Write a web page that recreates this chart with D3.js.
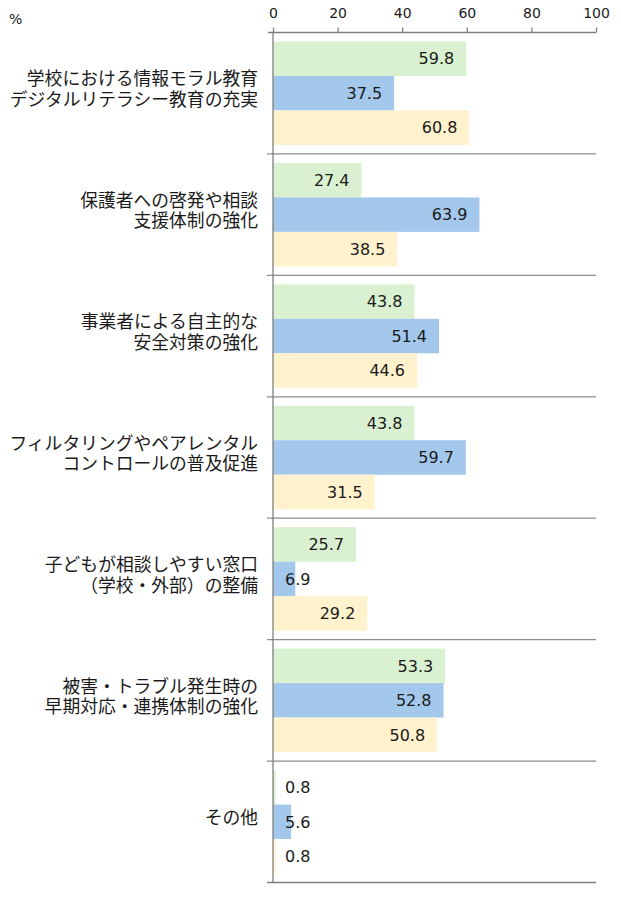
<!DOCTYPE html>
<html><head><meta charset="utf-8">
<script src="https://cdn.jsdelivr.net/npm/d3@7"></script>
<style>body{margin:0;background:#fff}</style>
</head><body>
<script>
const categories = [
  ["学校における情報モラル教育","デジタルリテラシー教育の充実"],
  ["保護者への啓発や相談","支援体制の強化"],
  ["事業者による自主的な","安全対策の強化"],
  ["フィルタリングやペアレンタル","コントロールの普及促進"],
  ["子どもが相談しやすい窓口","（学校・外部）の整備"],
  ["被害・トラブル発生時の","早期対応・連携体制の強化"],
  ["その他"]
];
const seriesA = [59.8, 27.4, 43.8, 43.8, 25.7, 53.3, 0.8];
const seriesB = [37.5, 63.9, 51.4, 59.7, 6.9, 52.8, 5.6];
const seriesC = [60.8, 38.5, 44.6, 31.5, 29.2, 50.8, 0.8];
const tickValues = [0, 20, 40, 60, 80, 100];
const colors = ["#d9f1d0", "#a4c7ec", "#fff2cc"];

const W = 621, H = 900;
const svg = d3.select("body").append("svg").attr("width", W).attr("height", H);
const x0 = 273, x1 = 596, yTop = 32.5, yBot = 882.5;
const x = d3.scaleLinear().domain([0, 100]).range([x0, x1]);
const idx = categories.map((d, i) => i);
const y = d3.scaleBand().domain(idx).range([yTop, yBot]).paddingInner(0).paddingOuter(0);
const inner = d3.scaleBand().domain([0, 1, 2]).range([9, y.bandwidth() - 9]).padding(0);
const series = [seriesA, seriesB, seriesC];

// group separators
const seps = idx.slice(1).map(i => y(i));
svg.selectAll("line.sep").data(seps).enter().append("line")
  .attr("x1", x0 - 6).attr("x2", x1).attr("y1", d => d).attr("y2", d => d)
  .attr("stroke", "#8c8c8c").attr("stroke-width", 1.3);
svg.append("line").attr("x1", x0 - 6).attr("x2", x1).attr("y1", yBot).attr("y2", yBot)
  .attr("stroke", "#7f7f7f").attr("stroke-width", 1.5);

// bars
const g = svg.selectAll("g.cat").data(idx).enter().append("g")
  .attr("transform", i => `translate(0,${y(i)})`);
series.forEach((s, k) => {
  g.append("rect")
    .attr("x", x(0)).attr("y", inner(k))
    .attr("width", i => x(s[i]) - x(0)).attr("height", inner.bandwidth())
    .attr("fill", colors[k]);
  g.append("text")
    .attr("font-family", "DejaVu Sans, Verdana, sans-serif").attr("font-size", 16)
    .attr("fill", "#1a1a1a")
    .attr("y", inner(k) + inner.bandwidth() / 2).attr("dy", "0.36em")
    .attr("x", i => (x(s[i]) - x(0) > 50) ? x(s[i]) - 12 : x(0) + 12)
    .attr("text-anchor", i => (x(s[i]) - x(0) > 50) ? "end" : "start")
    .text(i => s[i].toFixed(1));
});

// category labels
g.each(function(i) {
  const lines = categories[i];
  const lh = 20.5;
  const c = y.bandwidth() / 2 - 4 - (lines.length - 1) * lh / 2;
  const t = d3.select(this).append("text")
    .attr("font-family", "Noto Sans CJK JP, sans-serif").attr("font-size", 17.8)
    .attr("fill", "#1a1a1a").attr("text-anchor", "end");
  lines.forEach((l, j) => {
    t.append("tspan").attr("x", 258).attr("y", c + j * lh).attr("dy", "0.36em").text(l);
  });
});

// top axis
const axis = d3.axisTop(x).tickValues(tickValues).tickSize(5).tickSizeOuter(5).tickPadding(10);
const ax = svg.append("g").attr("transform", `translate(0,${yTop})`).call(axis);
ax.select(".domain").attr("stroke", "#7f7f7f").attr("stroke-width", 1.3)
  .attr("d", `M${x0 - 5},0H${x1}`);
ax.selectAll(".tick line").attr("stroke", "#7f7f7f").attr("stroke-width", 1.3);
ax.selectAll(".tick text").attr("font-family", "DejaVu Sans, Verdana, sans-serif")
  .attr("font-size", 14).attr("fill", "#1a1a1a");

// vertical axis line
svg.append("line").attr("x1", x0).attr("x2", x0).attr("y1", yTop).attr("y2", yBot)
  .attr("stroke", "#7f7f7f").attr("stroke-width", 1.3);

svg.append("text").attr("x", 9).attr("y", 24).attr("font-family", "DejaVu Sans, sans-serif")
  .attr("font-size", 14).attr("fill", "#1a1a1a").text("%");
</script>
</body></html>
